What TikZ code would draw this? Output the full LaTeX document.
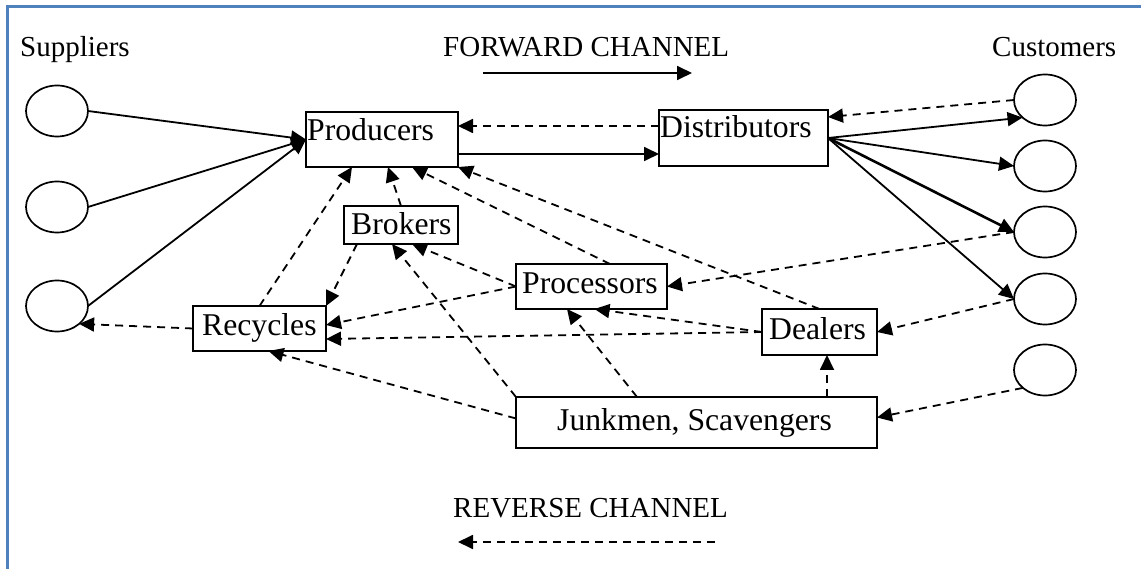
\documentclass[tikz,border=0pt]{standalone}
\usepackage{fontspec}
\setmainfont{Liberation Serif}
\usetikzlibrary{arrows.meta,calc,shapes.geometric}

\definecolor{framecol}{RGB}{79,129,189}

\tikzset{
  boxnode/.style={draw, line width=2pt, rectangle, inner sep=0pt, outer sep=0pt},
  party/.style={draw, line width=1.7pt, ellipse, inner sep=0pt, outer sep=0pt,
                minimum width=62pt, minimum height=51pt},
  boxtext/.style={inner sep=0pt, anchor=base west, font=\fontsize{31.7}{36}\selectfont},
  lbl/.style={inner sep=0pt, anchor=base west, font=\fontsize{29}{33}\selectfont},
  fw/.style={line width=1.8pt, -{Triangle[length=15pt,width=14pt]}},
  fwbold/.style={line width=2.6pt, -{Triangle[length=15pt,width=14pt]}},
  rv/.style={line width=1.8pt, dash pattern=on 8pt off 6pt,
             -{Triangle[length=15pt,width=14pt]}},
  framestyle/.style={draw=framecol, line width=3pt}
}

\begin{document}
\begin{tikzpicture}[x=1pt, y=-1pt]
\useasboundingbox (0,0) rectangle (1141,569);

% page frame (top and left edges)
\draw[framestyle] (7.5,569) -- (7.5,6.5) -- (1141,6.5);

% headings
\node[lbl] (supT) at (20,57) {Suppliers};
\node[lbl] (fwdT) at (443,57) {FORWARD CHANNEL};
\node[lbl] (cusT) at (992,57) {Customers};
\node[lbl] (revT) at (453,517) {REVERSE CHANNEL};

% legend arrows
\coordinate (f1) at (483,73);
\coordinate (f2) at (692,73);
\draw[fw] (f1) -- (f2);
\coordinate (r1) at (715,542);
\coordinate (r2) at (458,542);
\draw[rv] (r1) -- (r2);

% suppliers
\node[party] (s1) at (57,111) {};
\node[party] (s2) at (57,207) {};
\node[party] (s3) at (57,306) {};

% customers
\node[party] (c1) at (1045,100) {};
\node[party] (c2) at (1045,166) {};
\node[party] (c3) at (1045,232) {};
\node[party] (c4) at (1045,299) {};
\node[party] (c5) at (1045,370) {};

% boxes
\node[boxnode, minimum width=152pt, minimum height=55pt] (prod) at (382,139.5) {};
\node[boxtext] (prodT) at (307,141) {Producers};
\node[boxnode, minimum width=169pt, minimum height=56pt] (dist) at (743.5,138) {};
\node[boxtext] (distT) at (660,138) {Distributors};
\node[boxnode, minimum width=114pt, minimum height=38pt] (brok) at (401,225) {};
\node[boxtext] (brokT) at (351,235) {Brokers};
\node[boxnode, minimum width=133pt, minimum height=45pt] (rec) at (259.5,328.5) {};
\node[boxtext] (recT) at (202,336) {Recycles};
\node[boxnode, minimum width=151pt, minimum height=45pt] (proc) at (591.5,286.5) {};
\node[boxtext] (procT) at (522,294) {Processors};
\node[boxnode, minimum width=115pt, minimum height=46pt] (deal) at (819.5,332) {};
\node[boxtext] (dealT) at (769,340) {Dealers};
\node[boxnode, minimum width=361pt, minimum height=51pt] (junk) at (696.5,422.5) {};
\node[boxtext] (junkT) at (557,430) {Junkmen, Scavengers};

% forward channel
\draw[fw] (s1.east) -- (prod.west);
\draw[fw] (s2.east) -- (prod.west);
\draw[fw] (s3.east) -- (prod.west);
\draw[fw] ($(prod.east)+(0,14.5)$) coordinate (pd) -- (pd -| dist.west);
\draw[fw] (dist.east) -- (c1.218);
\draw[fw] (dist.east) -- (c2.west);
\draw[fwbold] (dist.east) -- (c3.west);
\draw[fw] (dist.east) -- (c4.west);

% reverse channel
\draw[rv] (c1.west) -- ($(dist.east)+(0,-21)$);
\draw[rv] ($(dist.west)+(0,-12)$) coordinate (dp) -- (dp -| prod.east);
\draw[rv] (c3.west) -- (proc.east);
\draw[rv] (c4.west) -- (deal.east);
\draw[rv] (c5.219) -- ($(junk.east)+(0,-5)$);
\draw[rv] ($(junk.north)+(130.5,0)$) -- ($(deal.south)+(7.5,0)$);
\draw[rv] (deal.west) -- ($(proc.south)+(3,0)$);
\draw[rv] (deal.west) -- ($(rec.east)+(0,10.5)$);
\draw[rv] (proc.west) -- ($(rec.east)+(0,-3.5)$);
\draw[rv] (proc.west) -- ($(brok.south)+(11,0)$);
\draw[rv] ($(proc.north)+(18.5,0)$) -- ($(prod.south)+(30,0)$);
\draw[rv] (rec.north) -- ($(prod.south)+(-30,0)$);
\draw[rv] (brok.north) -- ($(prod.south)+(6,0)$);
\draw[rv] (deal.north) -- (prod.south east);
\draw[rv] ($(brok.south west)+(13,0)$) -- (rec.north east);
\draw[rv] (junk.north west) -- ($(brok.south)+(-9,0)$);
\draw[rv] ($(junk.north)+(-59.5,0)$) -- ($(proc.south)+(-24.5,0)$);
\draw[rv] ($(junk.west)+(0,-4)$) -- ($(rec.south)+(9,0)$);
\draw[rv] (rec.west) -- (s3.321);
\end{tikzpicture}
\end{document}
